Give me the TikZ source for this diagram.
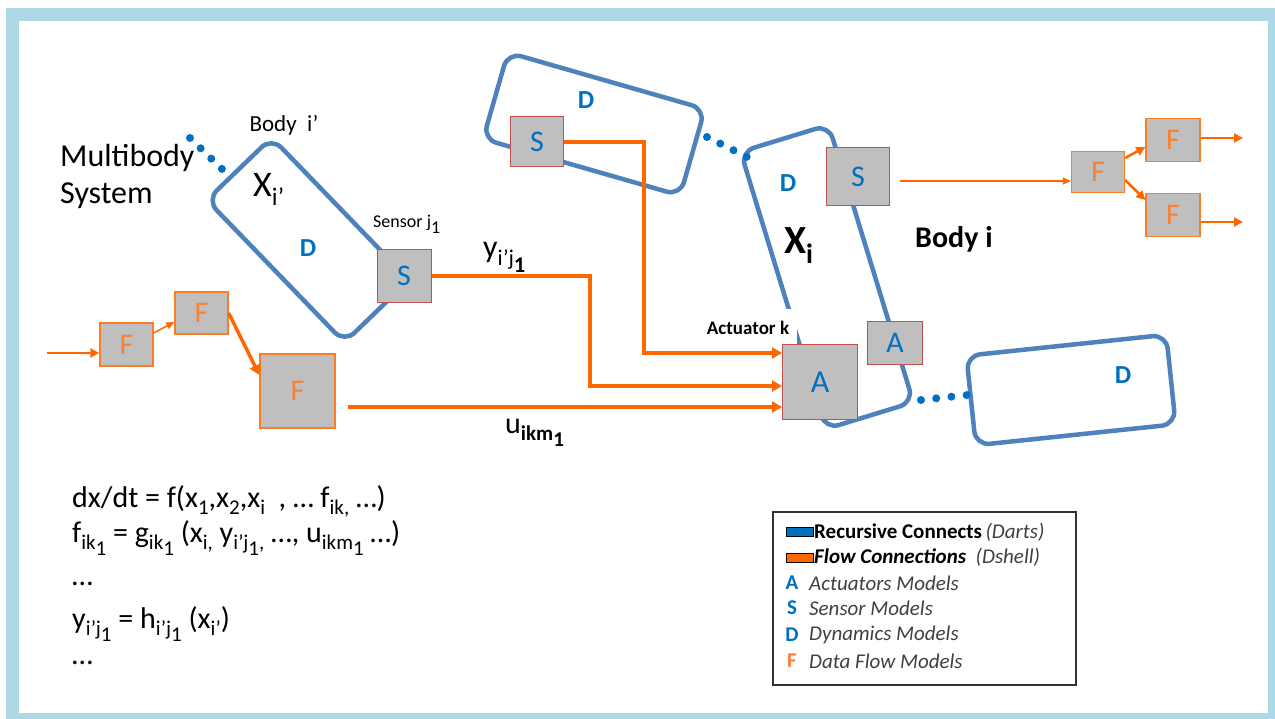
\documentclass[tikz,border=0pt]{standalone}
\usepackage{fontspec}
\setmainfont{Carlito}
\usetikzlibrary{arrows.meta,calc}
\definecolor{framec}{RGB}{173,216,230}
\definecolor{bodyc}{RGB}{79,129,189}
\definecolor{textblue}{RGB}{0,112,192}
\definecolor{flowc}{RGB}{255,102,0}
\definecolor{fbord}{RGB}{250,125,40}
\definecolor{ftext}{RGB}{247,130,50}
\definecolor{boxgray}{RGB}{191,191,191}
\definecolor{sbord}{RGB}{192,80,77}
\definecolor{legtext}{RGB}{64,64,64}
\definecolor{legc}{RGB}{50,50,50}
\makeatletter
\newcommand\sbx[1]{\raisebox{-0.25em}{\fontsize{\fpeval{\f@size*0.7}}{0}\selectfont #1}}
\makeatother
\newcommand\sbl[1]{\raisebox{-0.3em}{#1}}
\begin{document}
\begin{tikzpicture}[x=1pt,y=-1pt,
  body/.style={draw=bodyc, line width=4.5pt, rounded corners=14pt, shape=rectangle, inner sep=0pt},
  gbox/.style={draw=sbord, fill=boxgray, line width=1pt, text=textblue, font=\fontsize{30}{36}\selectfont, inner sep=0pt},
  fbox/.style={draw=fbord, fill=boxgray, line width=1.3pt, text=ftext, font=\fontsize{30}{36}\selectfont, inner sep=0pt},
  dlbl/.style={text=textblue, font=\bfseries\fontsize{26}{31}\selectfont, inner sep=0pt},
  dots/.style={draw=textblue, line width=8pt, line cap=round},
  flow/.style={draw=flowc, line width=3.5pt, -{Triangle[length=10pt,width=11pt]}},
  flowmid/.style={draw=flowc, line width=2.5pt, -{Triangle[length=9pt,width=9pt]}},
  flowthin/.style={draw=flowc, line width=1.5pt, -{Triangle[length=8pt,width=7pt]}},
  eq/.style={anchor=base west, inner sep=0pt, font=\fontsize{30}{36}\selectfont},
  legf/.style={anchor=west, inner sep=0pt, font=\fontsize{21}{25}\selectfont},
  legl/.style={inner sep=0pt, font=\bfseries\fontsize{21}{25}\selectfont}
]
\useasboundingbox (0,0) rectangle (1275,719);
\fill[white] (0,0) rectangle (1275,719);
\fill[framec] (6,8) rectangle (1275,719);
\fill[white] (19,21) rectangle (1268,713);

% bodies
\node[body, rotate=-46, minimum width=198pt, minimum height=90pt] (bip) at (308,240) {};
\node[body, rotate=-16, minimum width=205pt, minimum height=90pt] (btop) at (594,124) {};
\node[body, rotate=17, minimum width=92pt, minimum height=290pt] (bi) at (827,277) {};
\node[body, rotate=6, minimum width=201pt, minimum height=90pt] (bright) at (1071,390) {};

% dotted recursive connections
\coordinate (d1a) at (190,138); \coordinate (d1b) at (222,169);
\coordinate (d2a) at (707,137); \coordinate (d2b) at (747,157);
\coordinate (d3a) at (921,400); \coordinate (d3b) at (967,395);
\draw[dots, dash pattern=on 0pt off 14.8pt] (d1a) -- (d1b);
\draw[dots, dash pattern=on 0pt off 14.8pt] (d2a) -- (d2b);
\draw[dots, dash pattern=on 0pt off 15.3pt] (d3a) -- (d3b);

% label covering the gap of body i
\node[fill=white, font=\bfseries\fontsize{19}{23}\selectfont, inner xsep=8pt, inner ysep=12.5pt] (tak) at (748,328) {Actuator k};

% boxes
\node[gbox, minimum width=54pt, minimum height=53pt] (s1) at (404,276) {S};
\node[gbox, minimum width=53pt, minimum height=50pt] (s2) at (537,142) {S};
\node[gbox, minimum width=63pt, minimum height=58pt] (s3) at (858,177) {S};
\node[gbox, minimum width=75pt, minimum height=74pt, font=\fontsize{32}{38}\selectfont] (aa) at (820,382) {A};
\node[gbox, minimum width=55pt, minimum height=43pt] (ab) at (895,343) {A};
\node[fbox, minimum width=53pt, minimum height=43pt] (f1) at (126.5,344.5) {F};
\node[fbox, minimum width=53pt, minimum height=42pt] (f2) at (201.5,313) {F};
\node[fbox, minimum width=75pt, minimum height=74pt] (f3) at (297.5,391) {F};
\node[fbox, minimum width=53pt, minimum height=41pt] (fm) at (1098,172) {F};
\node[fbox, minimum width=54pt, minimum height=43pt] (ft) at (1173,140) {F};
\node[fbox, minimum width=54pt, minimum height=43pt] (fb) at (1173,215) {F};

% flow connections
\draw[flow] (s1.east) -| (590,386) -- ($(aa.west)+(0,4)$);
\draw[flow] (s2.east) -| (644,353) -- ($(aa.west)+(0,-29)$);
\draw[flow] ($(f3.east)+(12,16)$) -- ($(aa.west)+(0,25)$);
\draw[flow] (f2.east) -- ($(f3.west)+(0,-16)$);
\coordinate (i0) at (47,353);
\draw[flowmid] (i0) -- ($(f1.west)+(0,8.5)$);
\draw[flowthin] ($(f1.east)+(0,-11.5)$) -- ($(f2.west)+(0,9)$);
\draw[flowthin] ($(s3.east)+(10,4)$) -- ($(fm.west)+(0,9)$);
\draw[flowmid] ($(fm.east)+(0,-14)$) -- ($(ft.west)+(0,7)$);
\draw[flowmid] ($(fm.east)+(0,8)$) -- ($(fb.west)+(0,-15)$);
\coordinate (o1) at (1243,138); \coordinate (o2) at (1243,222);
\draw[flowmid] ($(ft.east)+(0,-2)$) -- (o1);
\draw[flowmid] ($(fb.east)+(0,7)$) -- (o2);

% D labels
\node[dlbl] (dip) at (308,248) {D};
\node[dlbl] (dtop) at (586,100) {D};
\node[dlbl] (di) at (788,183) {D};
\node[dlbl] (dr) at (1123,375) {D};

% text labels
\node[anchor=base, inner sep=0pt, font=\fontsize{23}{28}\selectfont] (tbip) at (284,132) {Body\ \ i’};
\node[anchor=base west, inner sep=0pt, font=\fontsize{32}{38}\selectfont] (tm1) at (60,167) {Multibody};
\node[anchor=base west, inner sep=0pt, font=\fontsize{32}{38}\selectfont] (tm2) at (60,204) {System};
\node[anchor=base west, inner sep=0pt, font=\fontsize{36}{43}\selectfont] (txip) at (253,197) {X\sbx{i’}};
\node[anchor=base west, inner sep=0pt, font=\fontsize{18}{22}\selectfont] (tsens) at (373,228) {Sensor j\sbl{1}};
\node[anchor=base west, inner sep=0pt, font=\fontsize{32}{38}\selectfont] (ty) at (483,258) {y\sbx{i’j\sbl{\textbf{1}}}};
\node[anchor=base west, inner sep=0pt, font=\fontsize{30}{36}\selectfont] (tu) at (505,433) {u\sbx{\textbf{ikm\sbl{1}}}};
\node[anchor=base west, inner sep=0pt, font=\bfseries\fontsize{40}{48}\selectfont] (txi) at (784,254) {X\sbx{i}};
\node[anchor=base west, inner sep=0pt, font=\bfseries\fontsize{30}{36}\selectfont] (tbi) at (915,248) {Body i};

% equations
\node[eq] (e1) at (72,507) {dx/dt = f(x\sbx{1},x\sbx{2},x\sbx{i}\ \ , … f\sbx{ik,} …)};
\node[eq] (e2) at (72,542) {f\sbx{ik\sbl{1}} = g\sbx{ik\sbl{1}} (x\sbx{i,} y\sbx{i’j\sbl{1},} …, u\sbx{ikm\sbl{1}} …)};
\node[eq] (e3) at (72,585) {…};
\node[eq] (e4) at (72,628) {y\sbx{i’j\sbl{1}} = h\sbx{i’j\sbl{1}} (x\sbx{i’})};
\node[eq] (e5) at (72,664) {…};

% legend
\node[draw=legc, line width=1.2pt, minimum width=303pt, minimum height=173pt, inner sep=0pt] (leg) at (924.5,598.5) {};
\node[draw=black, line width=0.8pt, fill=textblue, minimum width=27pt, minimum height=9pt, inner sep=0pt] (sw1) at (799.5,531.5) {};
\node[draw=black, line width=0.8pt, fill=flowc, minimum width=27pt, minimum height=9pt, inner sep=0pt] (sw2) at (799.5,558) {};
\node[legf] (l1) at (814,532) {\textbf{Recursive Connects}\,\textcolor{legtext}{\textit{(Darts)}}};
\node[legf] (l2) at (814,557) {\textbf{\textit{Flow Connections}}\ \ \textcolor{legtext}{\textit{(Dshell)}}};
\node[legl, text=textblue] (la) at (792,583) {A};
\node[legl, text=textblue] (ls) at (792,608) {S};
\node[legl, text=textblue] (ld) at (792,635) {D};
\node[legl, text=ftext] (lf) at (792,661) {F};
\node[legf, text=legtext] (la2) at (809,583) {\textit{Actuators Models}};
\node[legf, text=legtext] (ls2) at (809,608) {\textit{Sensor Models}};
\node[legf, text=legtext] (ld2) at (809,635) {\textit{Dynamics Models}};
\node[legf, text=legtext] (lf2) at (809,661) {\textit{Data Flow Models}};
\end{tikzpicture}
\end{document}
